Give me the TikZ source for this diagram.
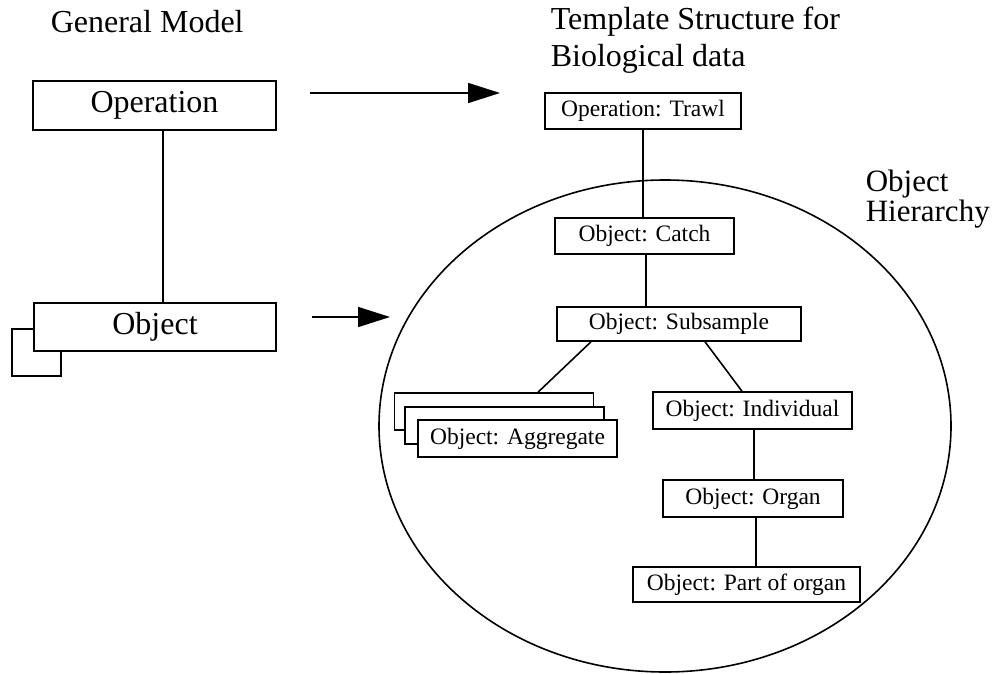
\documentclass[tikz,border=0pt]{standalone}
\usepackage{fontspec}
\setmainfont{Liberation Serif}
\usetikzlibrary{arrows.meta}
\tikzset{>={Triangle[length=32pt,width=20pt]}}
\tikzset{
  bigbox/.style={draw,line width=1.7pt,fill=white,inner sep=0pt,
    font=\fontsize{32}{36}\selectfont},
  smallbox/.style={draw,line width=1.6pt,fill=white,inner sep=0pt,
    font=\fontsize{23.5}{26}\selectfont},
  title/.style={align=left,anchor=base west,inner sep=0pt}
}

\begin{document}
\begin{tikzpicture}[x=1pt,y=-1pt,line width=1.6pt]
\useasboundingbox (0,0) rectangle (998,674);

% left: general model
\node[title,font=\fontsize{32}{37}\selectfont] (gm) at (50,33) {General Model};
\node[bigbox,minimum width=49,minimum height=47] (objback) at (36.5,352.5) {};
\node[bigbox,minimum width=243,minimum height=49] (op) at (154.5,105.5) {Operation};
\node[bigbox,minimum width=242,minimum height=48] (obj) at (155,327) {Object};
\draw (op.south -| 163,0) -- (obj.north -| 163,0);

% arrows
\coordinate (a1s) at (310,93);
\coordinate (a1e) at (500,93);
\coordinate (a2s) at (312,317);
\coordinate (a2e) at (390,317);
\draw[->] (a1s) -- (a1e);
\draw[->] (a2s) -- (a2e);

% right: template structure
\node[title,font=\fontsize{32}{37}\selectfont] (ts) at (550,67) {Template Structure for\\Biological data};
\node[title,font=\fontsize{31}{30}\selectfont] (oh) at (865,221) {Object\\Hierarchy};
\draw (665,426) ellipse (286 and 246);

\node[smallbox,minimum width=196,minimum height=36] (trawl) at (643,111) {Operation: Trawl};
\node[smallbox,minimum width=179,minimum height=36] (catch) at (644.5,236) {Object: Catch};
\node[smallbox,minimum width=244,minimum height=34] (subsample) at (679,324) {Object: Subsample};

\foreach \n/\x/\y in {agg1/494/411.5,agg2/504.5/425.5}
  \node[smallbox,minimum width=199,minimum height=37] (\n) at (\x,\y) {};
\node[smallbox,minimum width=199,minimum height=37] (agg3) at (517.5,438.5) {Object: Aggregate};

\node[smallbox,minimum width=199,minimum height=37] (indiv) at (752.5,410.5) {Object: Individual};
\node[smallbox,minimum width=180,minimum height=37] (organ) at (753,498.5) {Object: Organ};
\node[smallbox,minimum width=227,minimum height=35] (part) at (746.5,584.5) {Object: Part of organ};

\draw (trawl.south) -- (trawl.south |- catch.north);
\draw (catch.south -| 646,0) -- (subsample.north -| 646,0);
\draw (subsample.south -| 591,0) -- (agg1.north -| 538,0);
\draw (subsample.south -| 705,0) -- (indiv.north -| 742,0);
\draw (indiv.south -| 754,0) -- (organ.north -| 754,0);
\draw (organ.south -| 756,0) -- (part.north -| 756,0);
\end{tikzpicture}
\end{document}
